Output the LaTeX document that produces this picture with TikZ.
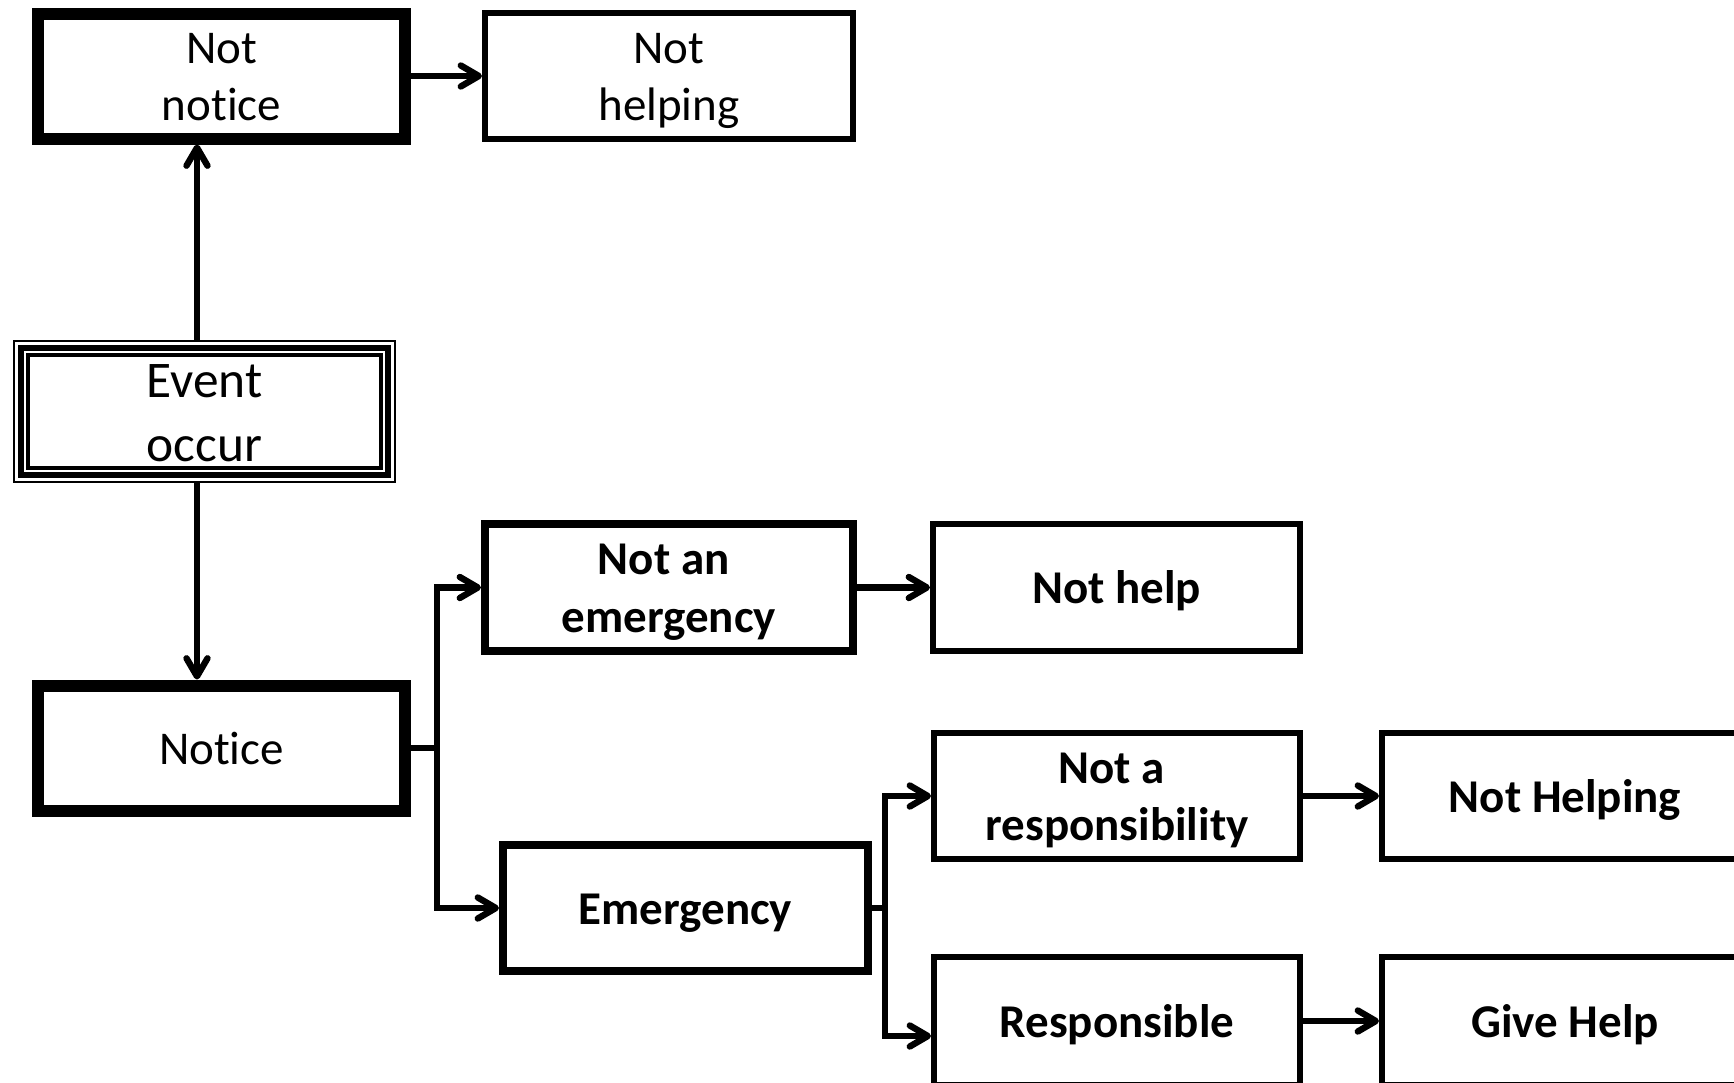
\documentclass[tikz,border=0pt]{standalone}
\usepackage{fontspec}
\setmainfont{Carlito}[Ligatures={NoCommon}]
\usetikzlibrary{arrows.meta}
\newcommand\lnstrut{\rule[-4pt]{0pt}{24pt}}
\newcommand\evstrut{\rule[-3.5pt]{0pt}{25pt}}
\begin{document}
\begin{tikzpicture}[x=0.5pt,y=-0.5pt,
  box/.style={draw, rectangle, inner sep=0pt, align=center,
    font=\fontsize{23.5pt}{28.75pt}\selectfont,
    minimum width=183pt, minimum height=63pt},
  thickbox/.style={box, line width=6pt, minimum width=183.5pt, minimum height=62.5pt},
  medbox/.style={box, line width=4pt, font=\fontsize{23.5pt}{28.75pt}\selectfont\bfseries,
    minimum width=183pt, minimum height=63.5pt},
  thinbox/.style={box, line width=3pt},
  boldbox/.style={thinbox, font=\fontsize{23.5pt}{28.75pt}\selectfont\bfseries},
  conn/.style={line width=3.2pt},
  arr/.style={conn, -{Straight Barb[length=9pt,width=10.5pt,round]}},
]
\useasboundingbox (0,0) rectangle (1734,1082);
\clip (0,0) rectangle (1734,1082);

% nodes
\node[thickbox] (notnotice) at (221.5,76) {\lnstrut Not\\\lnstrut notice};
\node[thinbox, minimum width=184pt] (nothelpingA) at (669,76) {\lnstrut Not\\\lnstrut helping};
\node[draw=none, inner sep=0pt, outer sep=0pt, align=center,
      minimum width=191.5pt, minimum height=71.5pt,
      font=\fontsize{25.7pt}{31.7pt}\selectfont] (event) at (204.5,411.5)
      {\evstrut Event\\\evstrut occur};
\node[thickbox] (notice) at (221.5,748) {\lnstrut Notice};
\node[medbox, minimum width=184pt] (notemerg) at (669,587.5) {\lnstrut Not an\kern0.226em\\\lnstrut emergency};
\node[boldbox, minimum width=183.5pt, minimum height=63.5pt] (nothelp) at (1116.5,587.5) {\lnstrut Not help};
\node[medbox, minimum width=182.5pt, minimum height=63pt] (emerg) at (685.5,908) {\lnstrut Emergency};
\node[boldbox] (notresp) at (1117,796) {\lnstrut Not a\kern0.226em\\\lnstrut responsibility};
\node[boldbox] (nothelpingB) at (1565,796) {\lnstrut Not Helping};
\node[boldbox, minimum height=64pt] (respons) at (1117,1021) {\lnstrut Responsible};
\node[boldbox, minimum height=64pt] (givehelp) at (1565,1021) {\lnstrut Give Help};

% triple border of the event box
\draw[line width=1.2pt] ([xshift=0.6pt,yshift=-0.6pt]event.north west) rectangle ([xshift=-0.6pt,yshift=0.6pt]event.south east);
\draw[line width=3.3pt] ([xshift=4pt,yshift=-4pt]event.north west) rectangle ([xshift=-4pt,yshift=4pt]event.south east);
\draw[line width=1.6pt] ([xshift=7.5pt,yshift=-7.5pt]event.north west) rectangle ([xshift=-7.5pt,yshift=7.5pt]event.south east);

% helper coordinates
\coordinate (colx) at (197,0);
\coordinate (b1) at (437,748);
\coordinate (b2) at (885,908);

% connectors
\draw[arr] (event.north -| colx) -- (notnotice.south -| colx);
\draw[arr] (event.south -| colx) -- (notice.north -| colx);
\draw[arr] (notnotice.east) -- (nothelpingA.west);
\draw[conn] (notice.east) -- (b1);
\draw[arr] (b1) |- (notemerg.west);
\draw[arr] (b1) |- (emerg.west);
\draw[arr] (notemerg.east) -- (nothelp.west);
\draw[conn] (emerg.east) -- (b2);
\draw[arr] (b2) |- (notresp.west);
\draw[arr] (b2) |- ([yshift=-7.5pt]respons.west);
\draw[arr] (notresp.east) -- (nothelpingB.west);
\draw[arr] (respons.east) -- (givehelp.west);
\end{tikzpicture}
\end{document}
